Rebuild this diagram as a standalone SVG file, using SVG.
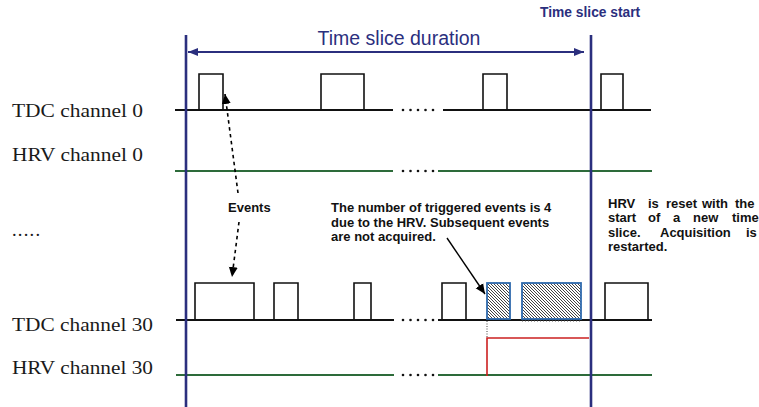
<svg xmlns="http://www.w3.org/2000/svg" width="759" height="407" viewBox="0 0 759 407">
<defs>
<style>
.lbl{font-family:"Liberation Serif","Times New Roman",serif;font-size:18.5px;fill:#1a1a1a}
.b{font-family:"Liberation Sans",Arial,sans-serif;font-weight:bold;font-size:13px;fill:#111}
.sig{stroke:#111;stroke-width:2;fill:none}
.pulse{stroke:#111;stroke-width:1.6;fill:none}
.hrv{stroke:#2d6b3a;stroke-width:2.2;fill:none}
.slice{stroke:#2b2f7e;stroke-width:2.6;fill:none}
.dots{fill:#111}
</style>
<pattern id="hatch" patternUnits="userSpaceOnUse" width="3" height="3">
<path d="M-1,-1 L4,4 M-1,2 L1,4 M2,-1 L4,1" stroke="#111" stroke-width="0.8"/>
</pattern>
<marker id="navyHead" viewBox="0 0 10 10" refX="10" refY="5" markerWidth="10" markerHeight="10" markerUnits="userSpaceOnUse" orient="auto-start-reverse">
<path d="M0,1 L10,5 L0,9 z" fill="#2b2f7e"/>
</marker>
<marker id="blackHead" viewBox="0 0 10 10" refX="10" refY="5" markerWidth="10" markerHeight="12" markerUnits="userSpaceOnUse" orient="auto">
<path d="M0,0.5 L10,5 L0,9.5 z" fill="#000"/>
</marker>
</defs>
<rect width="759" height="407" fill="#fff"/>

<g id="labels">
<text class="lbl" x="12" y="117" textLength="131" lengthAdjust="spacingAndGlyphs">TDC channel 0</text>
<text class="lbl" x="12" y="161" textLength="131" lengthAdjust="spacingAndGlyphs">HRV channel 0</text>
<text class="lbl" x="12" y="236" textLength="28" lengthAdjust="spacing">.....</text>
<text class="lbl" x="12" y="331" textLength="141" lengthAdjust="spacingAndGlyphs">TDC channel 30</text>
<text class="lbl" x="12" y="374" textLength="141" lengthAdjust="spacingAndGlyphs">HRV channel 30</text>
</g>

<g id="tdc0">
<path class="sig" d="M175,110 H393 M443,110 H651"/>
<path class="pulse" d="M199,110 V74 H223 V110 M321,110 V74 H364 V110 M483,110 V74 H507 V110 M601,110 V74 H623 V110"/>
<g class="dots"><circle cx="403" cy="110" r="1.3"/><circle cx="410.5" cy="110" r="1.3"/><circle cx="418" cy="110" r="1.3"/><circle cx="425.5" cy="110" r="1.3"/><circle cx="433" cy="110" r="1.3"/></g>
</g>

<g id="hrv0">
<path class="hrv" d="M175,171 H393 M438,171 H652"/>
<g class="dots"><circle cx="403" cy="171" r="1.3"/><circle cx="410.5" cy="171" r="1.3"/><circle cx="418" cy="171" r="1.3"/><circle cx="425.5" cy="171" r="1.3"/><circle cx="433" cy="171" r="1.3"/></g>
</g>

<g id="tdc30">
<path class="sig" d="M176,320 H394 M438,320 H652"/>
<path class="pulse" d="M195,320 V283 H254 V320 M274,320 V283 H298 V320 M354,320 V283 H371 V320 M442,320 V283 H466 V320 M605,320 V283 H648 V320"/>
<g class="dots"><circle cx="403" cy="320" r="1.3"/><circle cx="410.5" cy="320" r="1.3"/><circle cx="418" cy="320" r="1.3"/><circle cx="425.5" cy="320" r="1.3"/><circle cx="433" cy="320" r="1.3"/></g>
<rect x="487" y="283" width="23" height="36" fill="url(#hatch)" stroke="#2f6aad" stroke-width="1.8"/>
<rect x="522" y="283" width="59" height="36" fill="url(#hatch)" stroke="#2f6aad" stroke-width="1.8"/>
<path d="M522,321 H581" stroke="#555" stroke-width="1" stroke-dasharray="1,2"/>
</g>

<g id="hrv30">
<path class="hrv" d="M176,375 H394 M438,375 H652"/>
<g class="dots"><circle cx="403" cy="375" r="1.3"/><circle cx="410.5" cy="375" r="1.3"/><circle cx="418" cy="375" r="1.3"/><circle cx="425.5" cy="375" r="1.3"/><circle cx="433" cy="375" r="1.3"/></g>
<path d="M487,321 V338" stroke="#444" stroke-width="1" stroke-dasharray="1,1.5"/>
<path d="M487,376 V338 H589" stroke="#cc2020" stroke-width="1.6" fill="none"/>
</g>

<g id="time-slice">
<path class="slice" d="M186,35 V407 M591,35 V407"/>
<path d="M188,52 H584" stroke="#2b2f7e" stroke-width="2" marker-start="url(#navyHead)" marker-end="url(#navyHead)"/>
<text x="399" y="45" text-anchor="middle" font-family="Liberation Sans,Arial,sans-serif" font-size="19.5" fill="#2b2f7e">Time slice duration</text>
<text x="540" y="17" font-family="Liberation Sans,Arial,sans-serif" font-weight="bold" font-size="13.8" fill="#2b2f7e">Time slice start</text>
</g>

<g id="connectors">
<path d="M238,193 L225,94" stroke="#000" stroke-width="1.6" stroke-dasharray="3.5,3.5" fill="none" marker-end="url(#blackHead)"/>
<path d="M239,222 L232,277" stroke="#000" stroke-width="1.6" stroke-dasharray="3.5,3.5" fill="none" marker-end="url(#blackHead)"/>
<path d="M447,238 L485,294" stroke="#000" stroke-width="1.4" fill="none" marker-end="url(#blackHead)"/>
</g>

<g id="events-label">
<text class="b" x="228" y="212">Events</text>
</g>

<g id="note-hrv">
<text class="b" x="331" y="212">The number of triggered events is 4</text>
<text class="b" x="331" y="227">due to the HRV. Subsequent events</text>
<text class="b" x="331" y="241">are not acquired.</text>
</g>

<g id="note-reset">
<text class="b" y="208"><tspan x="608">HRV</tspan><tspan x="648">is</tspan><tspan x="666">reset</tspan><tspan x="702">with</tspan><tspan x="735">the</tspan></text>
<text class="b" y="222"><tspan x="608">start</tspan><tspan x="648">of</tspan><tspan x="673">a</tspan><tspan x="693">new</tspan><tspan x="732">time</tspan></text>
<text class="b" y="237"><tspan x="608">slice.</tspan><tspan x="660">Acquisition</tspan><tspan x="746">is</tspan></text>
<text class="b" y="251"><tspan x="608">restarted.</tspan></text>
</g>
</svg>
